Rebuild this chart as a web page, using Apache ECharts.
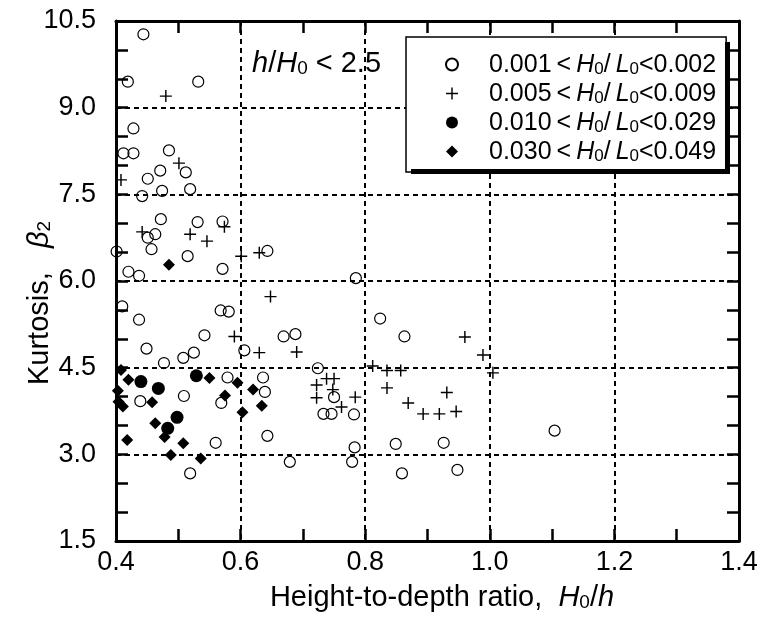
<!DOCTYPE html>
<html><head><meta charset="utf-8">
<script src="https://cdn.jsdelivr.net/npm/echarts@6/dist/echarts.min.js"></script>
<style>html,body{margin:0;padding:0;background:#fff}#c{width:765px;height:625px}</style>
</head><body><div id="c"></div>
<script>
// x = H0/h, y = kurtosis beta2
const openCircle = [[0.444,10.27],[0.419,9.45],[0.532,9.45],[0.428,8.64],[0.412,8.21],[0.428,8.21],[0.485,8.26],[0.512,7.88],[0.471,7.91],[0.451,7.77],[0.519,7.59],[0.474,7.56],[0.442,7.47],
[0.472,7.07],[0.531,7.02],[0.571,7.03],[0.463,6.81],[0.451,6.75],[0.457,6.55],[0.401,6.51],[0.643,6.52],[0.515,6.43],[0.571,6.21],[0.420,6.16],[0.437,6.09],[0.410,5.56],[0.568,5.49],[0.581,5.47],[0.437,5.33],[0.542,5.06],[0.669,5.04],[0.688,5.08],[0.449,4.83],[0.606,4.80],[0.525,4.76],[0.508,4.67],[0.477,4.58],[0.724,4.49],[0.579,4.33],[0.636,4.33],[0.439,3.92],[0.509,4.01],[0.569,3.89],[0.639,4.08],[0.733,3.70],[0.746,3.70],[0.750,3.99],[0.782,3.69],[0.643,3.32],[0.560,3.20],[0.519,2.67],[0.679,2.87],[0.785,6.05],[0.824,5.35],[0.863,5.04],[1.104,3.41],[0.849,3.18],[0.926,3.20],[0.783,3.12],[0.779,2.87],[0.859,2.67],[0.948,2.73]];
const plusPts = [[0.480,9.20],[0.501,8.04],[0.408,7.75],[0.574,6.94],[0.442,6.85],[0.519,6.81],[0.546,6.69],[0.601,6.43],[0.630,6.49],[0.648,5.73],[0.590,5.04],[0.630,4.76],[0.690,4.77],[0.722,4.20],[0.738,4.31],[0.750,4.31],[0.748,4.12],[0.722,3.98],[0.784,3.99],[0.762,3.82],[0.812,4.53],[0.835,4.45],[0.857,4.45],[0.835,4.15],[0.931,4.07],[0.869,3.89],[0.893,3.70],[0.919,3.70],[0.946,3.74],[0.960,5.03],[0.989,4.72],[1.005,4.41]];
const filledCircle = [[0.440,4.26],[0.468,4.14],[0.529,4.36],[0.498,3.64],[0.483,3.45]];
const diamondPts = [[0.485,6.28],[0.408,4.46],[0.420,4.29],[0.403,4.10],[0.404,3.91],[0.411,3.83],[0.458,3.90],[0.463,3.54],[0.478,3.30],[0.418,3.25],[0.508,3.19],[0.488,2.99],[0.536,2.93],[0.550,4.32],[0.595,4.24],[0.620,4.12],[0.575,4.02],[0.634,3.84],[0.603,3.73]];
const seriesNames = ['0.001-0.002','0.005-0.009','0.010-0.029','0.030-0.049'];
const legendLabels = [['0.001','0.002'],['0.005','0.009'],['0.010','0.029'],['0.030','0.049']];
const xTicks = {min:0.4, max:1.4, interval:0.2};
const yTicks = {min:1.5, max:10.5, interval:1.5};

const FONT = '"Liberation Sans", Arial, Helvetica, sans-serif';
const chart = echarts.init(document.getElementById('c'), null, {renderer:'canvas'});
const plusPath = 'path://M4.4,0h1.2v4.4h4.4v1.2h-4.4v4.4h-1.2v-4.4h-4.4v-1.2h4.4z';

function richSet(size){
  return {
    g:{width:26},
    n:{fontFamily:FONT,fontSize:size,color:'#000',verticalAlign:'bottom',lineHeight:size+2},
    i:{fontFamily:FONT,fontSize:size,fontStyle:'italic',color:'#000',verticalAlign:'bottom',lineHeight:size+2},
    s:{fontFamily:FONT,fontSize:Math.round(size*0.66),color:'#000',verticalAlign:'bottom',lineHeight:size+2}
  };
}
const gridLine = {show:true, lineStyle:{color:'#000', width:2, type:[5,4]}};
function xAxisDef(pos, labels){
  return {type:'value', position:pos, min:xTicks.min, max:xTicks.max, interval:xTicks.interval,
    axisLine:{show:true, onZero:false, lineStyle:{color:'#000', width:3}},
    axisTick:{show:true, inside:true, length:12, lineStyle:{color:'#000', width:2.5}},
    minorTick:{show:true, splitNumber:2, length:12, lineStyle:{color:'#000', width:2.5}},
    splitLine: labels ? gridLine : {show:false},
    axisLabel:{show:labels, margin:8, fontFamily:FONT, fontSize:27, color:'#000', formatter:v=>v.toFixed(1)},
    name: labels ? '{n|Height-to-depth ratio,  }{i|H}{s|0}{n|/}{i|h}' : '',
    nameLocation:'middle', nameGap:40, nameMoveOverlap:false,
    nameTextStyle:{fontFamily:FONT, fontSize:29, color:'#000', padding:[0,0,0,29], rich:richSet(29)}
  };
}
function yAxisDef(pos, labels){
  return {type:'value', position:pos, min:yTicks.min, max:yTicks.max, interval:yTicks.interval,
    axisLine:{show:true, onZero:false, lineStyle:{color:'#000', width:3}},
    axisTick:{show:true, inside:true, length:12, lineStyle:{color:'#000', width:2.5}},
    minorTick:{show:true, splitNumber:3, length:12, lineStyle:{color:'#000', width:2.5}},
    splitLine: labels ? gridLine : {show:false},
    axisLabel:{show:labels, margin:20, fontFamily:FONT, fontSize:27, color:'#000', formatter:v=>v.toFixed(1)},
    name: labels ? '{n|Kurtosis,   }{i|β}{s|2}' : '',
    nameLocation:'middle', nameGap:62, nameRotate:90, nameMoveOverlap:false,
    nameTextStyle:{fontFamily:FONT, fontSize:29, color:'#000', padding:[0,44,0,0], rich:richSet(29)}
  };
}
const legendRich = richSet(25);
const option = {
  backgroundColor:'#fff',
  animation:false,
  grid:{left:116, right:26, top:21, bottom:84, containLabel:false},
  xAxis:[xAxisDef('bottom', true), xAxisDef('top', false)],
  yAxis:[yAxisDef('left', true), yAxisDef('right', false)],
  legend:{
    orient:'vertical', left:406, top:37, z:20,
    padding:[15,10,7,39], itemGap:3, itemWidth:12, itemHeight:12,
    backgroundColor:'#fff', borderColor:'#000', borderWidth:1.5,
    data: seriesNames,
    formatter: function(name){
      const k = seriesNames.indexOf(name);
      const a = legendLabels[k][0], b = legendLabels[k][1];
      return '{g|}{n|'+a+'\u2009<\u2009}{i|H}{s|0}{n|/\u2009}{i|L}{s|0}{n|<'+b+'}';
    },
    textStyle:{fontFamily:FONT, fontSize:25, color:'#000', rich:legendRich}
  },
  graphic:[
    {type:'rect', z:100, silent:true, shape:{x:725, y:42, width:5, height:132}, style:{fill:'#000'}},
    {type:'rect', z:100, silent:true, shape:{x:411, y:169, width:319, height:5}, style:{fill:'#000'}},
    {type:'text', left:252, top:49, z:10,
     style:{rich:richSet(29), text:'{i|h}{n|/}{i|H}{s|0}{n| < 2.5}', fill:'#000'}}
  ],
  series:[
    {name:seriesNames[0], type:'scatter', data:openCircle, symbol:'circle', symbolSize:11,
     itemStyle:{color:'rgba(255,255,255,0)', borderColor:'#000', borderWidth:1.2, opacity:1}},
    {name:seriesNames[1], type:'scatter', data:plusPts, symbol:plusPath, symbolSize:12,
     itemStyle:{color:'#000', opacity:1}},
    {name:seriesNames[2], type:'scatter', data:filledCircle, symbol:'circle', symbolSize:13,
     itemStyle:{color:'#000', opacity:1}},
    {name:seriesNames[3], type:'scatter', data:diamondPts, symbol:'diamond', symbolSize:12,
     itemStyle:{color:'#000', opacity:1}}
  ]
};
chart.setOption(option);
</script></body></html>
